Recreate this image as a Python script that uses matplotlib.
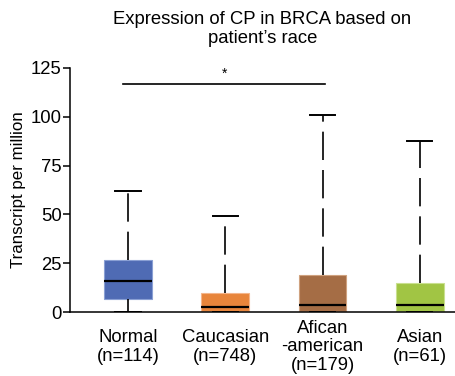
import matplotlib.pyplot as plt

plt.rcParams['font.family'] = ['Liberation Sans', 'DejaVu Sans']

# Data
categories = ['Normal\n(n=114)', 'Caucasian\n(n=748)', 'Afican\n-american\n(n=179)', 'Asian\n(n=61)']
whis_low = [0.0, 0.0, 0.0, 0.0]
q1 = [6.5, 0.4, 0.3, 0.3]
median = [15.8, 2.6, 3.8, 3.5]
q3 = [26.4, 9.7, 18.9, 15.1]
whis_high = [61.8, 49.2, 101.0, 87.6]
colors = ['#4f6bb4', '#e8853b', '#a56d45', '#a1c544']
edge_colors = ['#8aa0d4', '#f4b58a', '#cfa27f', '#c9e08f']

sig_span = (0.95, 3.03)
sig_height = 116.8
sig_label = '*'

fs = 13.3

fig = plt.figure(figsize=(4.56, 3.76), dpi=100)
ax = fig.add_axes([0.1535, 0.1702, 0.844, 0.649])

stats = []
for i, lab in enumerate(categories):
    stats.append({'label': lab, 'whislo': whis_low[i], 'q1': q1[i], 'med': median[i],
                  'q3': q3[i], 'whishi': whis_high[i], 'fliers': []})

positions = range(1, len(categories) + 1)
bp = ax.bxp(stats, positions=positions, widths=0.49, patch_artist=True,
            showfliers=False, capwidths=0.26,
            medianprops=dict(color='black', linewidth=1.6),
            whiskerprops=dict(color='black', linewidth=1.2, linestyle=(0, (17, 6))),
            capprops=dict(color='black', linewidth=1.4))
for box, c, ec in zip(bp['boxes'], colors, edge_colors):
    box.set_facecolor(c)
    box.set_edgecolor(ec)
    box.set_linewidth(0.8)

# significance bar
ax.plot(sig_span, [sig_height, sig_height], color='black', linewidth=1.2)
ax.text(sum(sig_span) / 2, sig_height + 1.5, sig_label, ha='center', va='bottom', fontsize=10)

ax.set_ylim(0, 125)
ax.set_xlim(0.404, 4.36)
ax.set_yticks([0, 25, 50, 75, 100, 125])
ax.set_ylabel('Transcript per million', fontsize=12.2, labelpad=3)
ax.set_title('Expression of CP in BRCA based on\npatient\u2019s race', fontsize=fs,
             linespacing=1.15, pad=18)

for s in ['top', 'right']:
    ax.spines[s].set_visible(False)
for s in ['left', 'bottom']:
    ax.spines[s].set_linewidth(1.1)
ax.tick_params(axis='y', labelsize=fs, width=1.1, length=5, pad=1)
ax.tick_params(axis='x', length=0, labelsize=fs, pad=25)
for lab in ax.get_xticklabels():
    lab.set_verticalalignment('center')
    lab.set_linespacing(1.12)

fig.savefig('out.png', dpi=100)
